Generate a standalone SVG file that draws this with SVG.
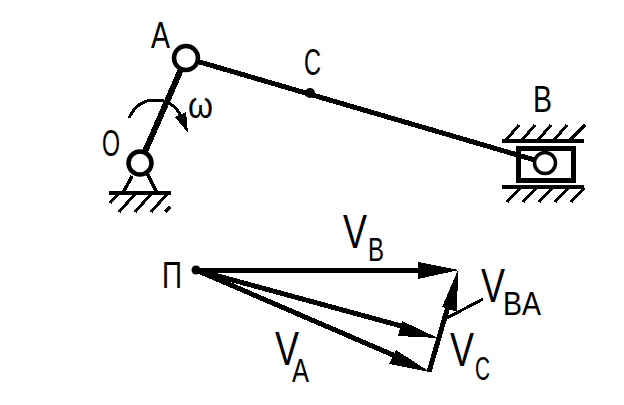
<svg xmlns="http://www.w3.org/2000/svg" width="624" height="405" viewBox="0 0 624 405">
<style>
text{font-family:"Liberation Sans",Arial,sans-serif;fill:#000;text-anchor:start}
.l{font-size:37px}.v{font-size:49px}.s{font-size:33px}
.link{fill:none;stroke:#000;stroke-linecap:butt}
.h{fill:none;stroke:#000;stroke-width:3}
.j{fill:#fff;stroke:#000;stroke-width:4.5}
.a{fill:#000}
</style>
<rect width="624" height="405" fill="#fff"/>
<g id="connectors" shape-rendering="crispEdges">
<path class="link" stroke-width="6" d="M140 163L186 58"/>
<path class="link" stroke-width="5" d="M186 58L545 163"/>
<path class="link" stroke-width="3" d="M129 118C135 105 145 100 155 100C167 100 176 106 181 116"/>
<polygon class="a" points="188,133 175,117 186,112"/>
<path class="link" stroke-width="5" d="M196 270L425 270"/>
<polygon class="a" points="459,270 418,262 418,279"/>
<path class="link" stroke-width="5" d="M196 270L405 327"/>
<polygon class="a" points="438,338 402,321 398,336"/>
<path class="link" stroke-width="5" d="M196 270L400 358"/>
<polygon class="a" points="430,372 396,350 389,364"/>
<path class="link" stroke-width="5" d="M429 372L449 303"/>
<polygon class="a" points="458,270 442,307 457,312"/>
<path class="link" stroke-width="3" d="M445 319L483 299"/>
</g>
<g id="ground-O" shape-rendering="crispEdges">
<path class="link" stroke-width="4" d="M109 193H171"/>
<path class="link" stroke-width="3.5" d="M132 176L123 193M147 173L157 193"/>
<path class="h" d="M110 203L118 194M119 212L135 194M135 212L151 194M151 212L167 194M165 212L170 207"/>
</g>
<g id="guide-top" shape-rendering="crispEdges">
<path class="link" stroke-width="4" d="M502 141H584"/>
<path class="h" d="M506 140L519 125M522 140L535 125M538 140L551 125M554 140L567 125M570 140L585 125"/>
</g>
<g id="guide-bottom" shape-rendering="crispEdges">
<path class="link" stroke-width="4" d="M502 187H584"/>
<path class="h" d="M507 202L520 188M523 202L536 188M539 202L552 188M555 202L568 188M571 202L584 188"/>
</g>
<g id="node-O"><circle class="j" cx="140" cy="163" r="11.5"/><text class="l" x="102" y="156" textLength="18" lengthAdjust="spacingAndGlyphs">O</text></g>
<g id="node-A"><circle class="j" cx="186" cy="58" r="12"/><text class="l" x="151" y="48" textLength="19" lengthAdjust="spacingAndGlyphs">A</text></g>
<g id="node-C"><circle cx="310" cy="93" r="5" fill="#000"/><text class="l" x="304" y="75" textLength="17" lengthAdjust="spacingAndGlyphs">C</text></g>
<g id="node-B"><rect x="518" y="148" width="55" height="32" fill="none" stroke="#000" stroke-width="5" shape-rendering="crispEdges"/><circle cx="545" cy="163" r="10.5" fill="#fff" stroke="#000" stroke-width="3.5"/><text class="l" x="533" y="112" textLength="19" lengthAdjust="spacingAndGlyphs">B</text></g>
<g id="label-omega"><text class="l" x="188" y="118" textLength="25" lengthAdjust="spacingAndGlyphs">ω</text></g>
<g id="node-P"><circle cx="196" cy="270" r="4.5" fill="#000"/><text class="l" x="162" y="288" textLength="20" lengthAdjust="spacingAndGlyphs">П</text></g>
<g id="label-VB"><text class="v" x="343" y="248" textLength="24" lengthAdjust="spacingAndGlyphs">V</text><text class="s" x="368" y="261" textLength="16" lengthAdjust="spacingAndGlyphs">B</text></g>
<g id="label-VBA"><text class="v" x="481" y="302" textLength="24" lengthAdjust="spacingAndGlyphs">V</text><text class="s" x="503" y="315" textLength="38" lengthAdjust="spacingAndGlyphs">BA</text></g>
<g id="label-VC"><text class="v" x="450" y="366" textLength="24" lengthAdjust="spacingAndGlyphs">V</text><text class="s" x="475" y="380" textLength="15" lengthAdjust="spacingAndGlyphs">C</text></g>
<g id="label-VA"><text class="v" x="275" y="365" textLength="24" lengthAdjust="spacingAndGlyphs">V</text><text class="s" x="292" y="382" textLength="17" lengthAdjust="spacingAndGlyphs">A</text></g>
</svg>
